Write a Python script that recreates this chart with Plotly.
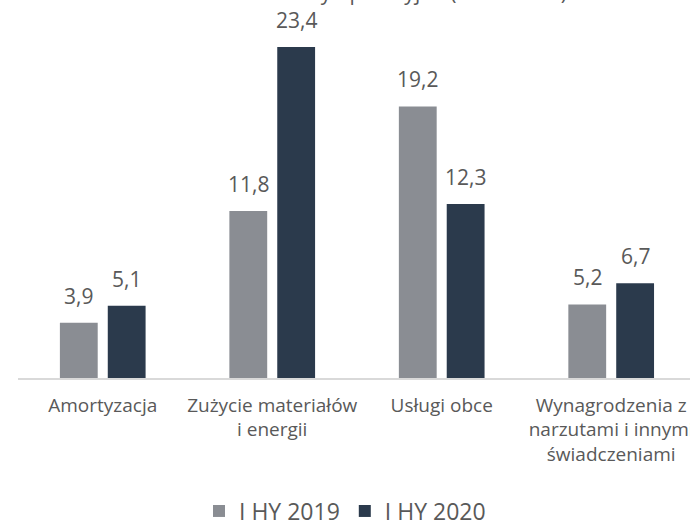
import plotly.graph_objects as go

categories = ["Amortyzacja", "Zużycie materiałów<br>i energii", "Usługi obce",
              "Wynagrodzenia z<br>narzutami i innymi<br>świadczeniami"]
series_names = ["I HY 2019", "I HY 2020"]
values_2019 = [3.9, 11.8, 19.2, 5.2]
values_2020 = [5.1, 23.4, 12.3, 6.7]
colors = ["#8A8D93", "#2B3A4C"]
title_text = "Koszty operacyjne (w mln PLN)"

FONT = "Open Sans"
TXT = "#595959"

fig = go.Figure()
for name, vals, col in zip(series_names, [values_2019, values_2020], colors):
    fig.add_trace(go.Bar(
        x=categories, y=vals, name=name,
        marker=dict(color=col, line=dict(width=0)),
    ))

# data labels
for i, vals in enumerate([values_2019, values_2020]):
    shift = -24 if i == 0 else 24
    for c, v in zip(categories, vals):
        fig.add_annotation(
            x=c, y=v, xref="x", yref="y",
            text=f"{v:.1f}".replace(".", ","),
            showarrow=False, xshift=shift, yanchor="bottom", yshift=11,
            font=dict(family=FONT, size=21, color=TXT),
        )

T, B = 30, 144

fig.update_layout(
    width=690, height=522,
    margin=dict(l=18, r=0, t=T, b=B, autoexpand=False),
    paper_bgcolor="white", plot_bgcolor="white",
    barmode="group", bargap=0.435, bargroupgap=0.21,
    font=dict(family=FONT, color=TXT),
    title=dict(text=title_text, x=0.605, xanchor="center", yref="container",
               y=1.0, yanchor="bottom",
               font=dict(family=FONT, size=21, color=TXT)),
    showlegend=True,
    legend=dict(orientation="h", xref="container", x=0.5, xanchor="center",
                yref="container", y=(522 - 511) / 522, yanchor="middle",
                font=dict(family=FONT, size=23, color=TXT),
                itemwidth=30),
)
fig.update_xaxes(range=[-0.5, 3.465], showline=True, linecolor="#D9D9D9", linewidth=1.5,
                 ticks="", ticklabelstandoff=9, tickangle=0, automargin=False,
                 tickfont=dict(family=FONT, size=19, color=TXT),
                 showgrid=False)
fig.update_yaxes(range=[0, 24.6], visible=False, showgrid=False, zeroline=False,
                 automargin=False)

fig.write_html("out.html", config={"displayModeBar": False},
               post_script="document.body.style.margin='0';")
